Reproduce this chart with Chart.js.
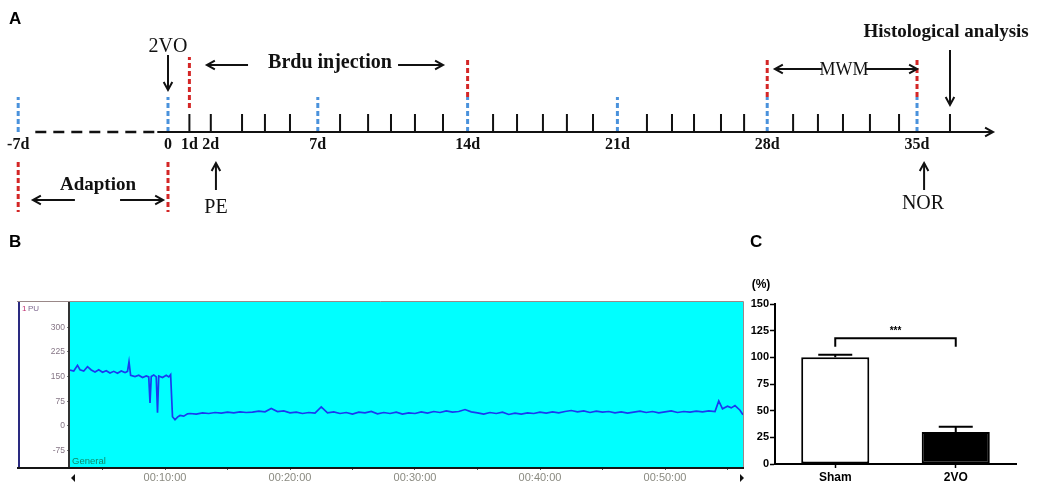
<!DOCTYPE html>
<html>
<head>
<meta charset="utf-8">
<script src="https://cdn.jsdelivr.net/npm/chart.js@4.4.1/dist/chart.umd.min.js"></script>
<style>
  html, body { margin: 0; padding: 0; background: #fff; }
  body { width: 1045px; height: 488px; position: relative; overflow: hidden; }
  canvas { position: absolute; }
  .tag { position: absolute; font: bold 17px Arial, "Liberation Sans", sans-serif; color: #000; line-height: 20px; }
</style>
</head>
<body>
<canvas id="timeline" width="1045" height="230" style="left:0;top:0"></canvas>
<canvas id="flow" width="750" height="258" style="left:0;top:230px"></canvas>
<canvas id="bars" width="300" height="258" style="left:745px;top:230px"></canvas>
<div class="tag" style="left:9px;top:9px">A</div>
<div class="tag" style="left:9px;top:232px">B</div>
<div class="tag" style="left:750px;top:232px">C</div>
<script>
// ---- panel A: experimental timeline (x in days) ----
const dayTicks = [1, 2, 3.46, 4.53, 5.7, 8.04, 9.35, 10.42, 11.54, 12.85, 15.19, 16.31, 17.52, 18.64, 19.86,
  22.38, 23.55, 24.58, 25.84, 26.92, 29.21, 30.37, 31.54, 32.8, 34.16, 36.54];
const weekMarks = [-7, 0, 7, 14, 21, 28, 35];
const redMarksUpper = [1, 14, 28, 35];
const redMarksLower = [-7, 0];
const dayLabelDays = [-7, 0, 1, 2, 7, 14, 21, 28, 35];
const dayLabelText = ["-7d", "0", "1d", "2d", "7d", "14d", "21d", "28d", "35d"];

// ---- panel B: laser doppler trace ----
const flowTime = [2.4, 2.7, 3.0, 3.2, 3.5, 3.8, 4.1, 4.4, 4.7, 5.0, 5.3, 5.6, 5.9, 6.2, 6.5, 6.8, 7.0, 7.12, 7.25,
  7.6, 7.9, 8.2, 8.5, 8.7, 8.8, 8.9, 9.1, 9.3, 9.4, 9.5, 9.8, 10.1, 10.3, 10.45, 10.6, 10.8, 11.0, 11.2, 11.5, 11.8,
  12.0, 12.5, 13.0, 13.5, 14.0, 14.5, 15.0, 15.5, 16.0, 16.5, 17.0, 17.5, 18.0, 18.5, 19.0, 19.5, 20.0, 20.5,
  21.0, 21.5, 22.0, 22.5, 23.0, 23.5, 24.0, 24.5, 25.0, 25.5, 26.0, 26.5, 27.0, 27.5, 28.0, 28.5, 29.0, 29.5,
  30.0, 30.5, 31.0, 31.5, 32.0, 32.5, 33.0, 33.5, 34.0, 34.5, 35.0, 35.5, 36.0, 36.5, 37.0, 37.5, 38.0, 38.5,
  39.0, 39.5, 40.0, 40.5, 41.0, 41.5, 42.0, 42.5, 43.0, 43.5, 44.0, 44.5, 45.0, 45.5, 46.0, 46.5, 47.0, 47.5,
  48.0, 48.5, 49.0, 49.5, 50.0, 50.5, 51.0, 51.5, 52.0, 52.5, 53.0, 53.5, 54.0, 54.3, 54.6, 55.0, 55.3, 55.6,
  56.0, 56.24];
const flowPU = [170, 167, 184, 171, 167, 180, 170, 164, 171, 163, 168, 161, 166, 160, 167, 162, 166, 195, 154,
  150, 154, 147, 152, 149, 70, 150, 155, 149, 40, 152, 147, 154, 149, 156, 28, 19, 27, 32, 30, 37,
  38, 36, 40, 38, 41, 39, 42, 40, 43, 41, 42, 45, 43, 53, 44, 46, 40, 42,
  38, 41, 39, 58, 40, 43, 38, 41, 36, 42, 40, 44, 37, 41, 38, 42, 36, 40,
  38, 43, 39, 44, 41, 46, 42, 44, 50, 43, 40, 36, 41, 38, 42, 35, 39, 36,
  40, 38, 42, 39, 43, 40, 44, 47, 43, 46, 41, 45, 42, 44, 40, 43, 39, 42,
  45, 41, 44, 40, 43, 46, 41, 44, 42, 45, 43, 46, 44, 76, 52, 60, 55, 62,
  48, 34];
const puTicks = [-75, 0, 75, 150, 225, 300];
const minuteTicks = [5, 10, 15, 20, 25, 30, 35, 40, 45, 50, 55];

// ---- panel C: relative blood flow ----
const groups = ["Sham", "2VO"];
const flowPercent = [100, 30];
const flowSem = [2.5, 5];

const serif = '"Liberation Serif", "Times New Roman", serif';
const sans = 'Arial, "Liberation Sans", sans-serif';

function level(v, x) {
  return typeof v === "function" ? v(x) : v;
}

function segs(xs, y0, y1) {
  return xs.flatMap((x) => [{ x, y: level(y0, x) }, { x, y: level(y1, x) }, { x, y: null }]);
}

function arrow(ctx, x1, y1, x2, y2, head) {
  const ang = Math.atan2(y2 - y1, x2 - x1);
  ctx.beginPath();
  ctx.moveTo(x1, y1);
  ctx.lineTo(x2, y2);
  ctx.stroke();
  ctx.beginPath();
  ctx.moveTo(x2 - head * Math.cos(ang - 0.5), y2 - head * Math.sin(ang - 0.5));
  ctx.lineTo(x2, y2);
  ctx.lineTo(x2 - head * Math.cos(ang + 0.5), y2 - head * Math.sin(ang + 0.5));
  ctx.stroke();
}

// labels and arrows on the timeline, placed in day / level units
const timelineNotes = [
  { text: "2VO", day: 0, level: 8.5, font: `20px ${serif}` },
  { text: "Brdu injection", day: 7.57, level: 6.9, font: `bold 20px ${serif}` },
  { text: "Histological analysis", day: 36.36, level: 10.0, font: `bold 19px ${serif}` },
  { text: "MWM", day: 31.59, level: 6.2, font: `18px ${serif}` },
  { text: "Adaption", day: -3.27, level: -5.3, font: `bold 19px ${serif}` },
  { text: "PE", day: 2.24, level: -7.6, font: `20px ${serif}` },
  { text: "NOR", day: 35.28, level: -7.2, font: `20px ${serif}` },
];
const timelineArrows = [
  [0, 7.7, 0, 4.2],
  [3.74, 6.7, 1.82, 6.7],
  [10.75, 6.7, 12.85, 6.7],
  [36.54, 8.2, 36.54, 2.7],
  [30.56, 6.3, 28.36, 6.3],
  [32.62, 6.3, 35.0, 6.3],
  [-4.35, -6.8, -6.31, -6.8],
  [-2.24, -6.8, -0.23, -6.8],
  [2.24, -5.8, 2.24, -3.1],
  [35.33, -5.8, 35.33, -3.1],
  [-0.5, 0, 38.55, 0],
];

const timelineText = {
  id: "timelineText",
  afterDraw(chart) {
    const { ctx } = chart;
    const xs = chart.scales.x, ys = chart.scales.y;
    ctx.save();
    ctx.fillStyle = "#111";
    ctx.strokeStyle = "#111";
    ctx.textAlign = "center";
    ctx.textBaseline = "middle";
    ctx.font = `bold 16px ${serif}`;
    dayLabelDays.forEach((d, i) => {
      ctx.fillText(dayLabelText[i], xs.getPixelForValue(d), ys.getPixelForValue(-1.3));
    });
    timelineNotes.forEach((n) => {
      ctx.font = n.font;
      ctx.fillText(n.text, xs.getPixelForValue(n.day), ys.getPixelForValue(n.level));
    });
    ctx.lineWidth = 2;
    timelineArrows.forEach((a) => {
      arrow(ctx, xs.getPixelForValue(a[0]), ys.getPixelForValue(a[1]),
        xs.getPixelForValue(a[2]), ys.getPixelForValue(a[3]), 9);
    });
    ctx.restore();
  },
};

new Chart(document.getElementById("timeline"), {
  type: "scatter",
  data: {
    datasets: [
      { data: segs(weekMarks, 0, 3.5), borderColor: "#4a92dc", borderWidth: 3, borderDash: [5, 3] },
      { data: segs(redMarksUpper, (d) => (weekMarks.includes(d) ? 3.5 : 2.4), 7.5), borderColor: "#d42626", borderWidth: 3, borderDash: [5, 3] },
      { data: segs(redMarksLower, -3.0, -8.0), borderColor: "#d42626", borderWidth: 3, borderDash: [5, 3] },
      { data: segs(dayTicks, 0, 1.8), borderColor: "#111", borderWidth: 2 },
      { data: [{ x: -6.2, y: 0 }, { x: -0.6, y: 0 }], borderColor: "#111", borderWidth: 2.5, borderDash: [11, 7] },
    ].map((ds) => ({ ...ds, showLine: true, pointRadius: 0, borderCapStyle: "butt" })),
  },
  options: {
    responsive: false,
    animation: false,
    layout: { padding: 0 },
    plugins: { legend: { display: false }, tooltip: { enabled: false } },
    scales: {
      x: { type: "linear", min: -7.85, max: 40.98, display: false },
      y: { type: "linear", min: -9.8, max: 13.2, display: false },
    },
  },
  plugins: [timelineText],
});

// ---- panel B ----
const flowFrame = {
  id: "flowFrame",
  beforeDraw(chart) {
    const { ctx, chartArea: a } = chart;
    ctx.save();
    ctx.fillStyle = "#fff";
    ctx.fillRect(17, a.top - 1, a.left - 17, a.bottom - a.top + 2);
    ctx.fillStyle = "#00ffff";
    ctx.fillRect(a.left, a.top, a.right - a.left, a.bottom - a.top);
    ctx.restore();
  },
  afterDraw(chart) {
    const { ctx, chartArea: a } = chart;
    ctx.save();
    ctx.lineWidth = 1;
    ctx.strokeStyle = "#9a8888";
    ctx.beginPath();
    ctx.moveTo(17, a.top - 0.5);
    ctx.lineTo(a.right + 0.5, a.top - 0.5);
    ctx.lineTo(a.right + 0.5, a.bottom);
    ctx.stroke();
    ctx.lineWidth = 2;
    ctx.strokeStyle = "#2a2a80";
    ctx.beginPath();
    ctx.moveTo(19, a.top);
    ctx.lineTo(19, a.bottom + 1);
    ctx.stroke();
    ctx.strokeStyle = "#333";
    ctx.beginPath();
    ctx.moveTo(a.left - 1, a.top);
    ctx.lineTo(a.left - 1, a.bottom + 1);
    ctx.stroke();
    ctx.strokeStyle = "#151515";
    ctx.beginPath();
    ctx.moveTo(17, a.bottom + 1);
    ctx.lineTo(a.right + 1, a.bottom + 1);
    ctx.stroke();

    ctx.textBaseline = "middle";
    ctx.textAlign = "left";
    ctx.font = `8px ${sans}`;
    ctx.fillStyle = "#c03070";
    ctx.fillText("1", 22, a.top + 7);
    ctx.fillStyle = "#806a90";
    ctx.fillText("PU", 28, a.top + 7);
    ctx.font = `9.5px ${sans}`;
    ctx.fillStyle = "#0f8a6a";
    ctx.fillText("General", a.left + 2, a.bottom - 6);

    // scroll arrows under the time axis
    ctx.fillStyle = "#111";
    const yb = a.bottom + 11;
    ctx.beginPath();
    ctx.moveTo(a.left + 1, yb);
    ctx.lineTo(a.left + 5, yb - 4);
    ctx.lineTo(a.left + 5, yb + 4);
    ctx.fill();
    ctx.beginPath();
    ctx.moveTo(a.right + 1, yb);
    ctx.lineTo(a.right - 3, yb - 4);
    ctx.lineTo(a.right - 3, yb + 4);
    ctx.fill();
    ctx.restore();
  },
};

new Chart(document.getElementById("flow"), {
  type: "line",
  data: {
    datasets: [{
      data: flowTime.map((t, i) => ({ x: t, y: flowPU[i] })),
      borderColor: "#1a3af0",
      borderWidth: 1.7,
      pointRadius: 0,
      tension: 0,
    }],
  },
  options: {
    responsive: false,
    animation: false,
    layout: { padding: { left: 17, top: 72, right: 7, bottom: 0 } },
    plugins: { legend: { display: false }, tooltip: { enabled: false } },
    scales: {
      x: {
        type: "linear",
        min: 2.4,
        max: 56.24,
        afterBuildTicks: (s) => { s.ticks = minuteTicks.map((v) => ({ value: v })); },
        afterFit: (s) => { s.height = 21; },
        ticks: {
          autoSkip: false,
          maxRotation: 0,
          padding: 1,
          color: "#8a8a80",
          font: { family: sans, size: 11 },
          callback: (v) => (v % 10 === 0 ? `00:${v}:00` : ""),
        },
        grid: { drawOnChartArea: false, tickLength: 3, color: "#555" },
        border: { display: false },
      },
      y: {
        min: -124.5,
        max: 376.5,
        afterBuildTicks: (s) => { s.ticks = puTicks.map((v) => ({ value: v })); },
        afterFit: (s) => { s.width = 53; },
        ticks: { padding: 2, color: "#857585", font: { family: sans, size: 8.5 } },
        grid: { drawOnChartArea: false, tickLength: 3, color: "#777" },
        border: { display: false },
      },
    },
  },
  plugins: [flowFrame],
});

// ---- panel C ----
const barExtras = {
  id: "barExtras",
  afterDatasetsDraw(chart) {
    const { ctx } = chart;
    const xs = chart.scales.x, ys = chart.scales.y;
    ctx.save();
    ctx.strokeStyle = "#000";
    ctx.lineWidth = 2;
    flowPercent.forEach((v, i) => {
      const x = xs.getPixelForValue(i);
      const yTop = ys.getPixelForValue(v + flowSem[i]);
      ctx.beginPath();
      ctx.moveTo(x, ys.getPixelForValue(v));
      ctx.lineTo(x, yTop);
      ctx.moveTo(x - 17, yTop);
      ctx.lineTo(x + 17, yTop);
      ctx.stroke();
    });
    const x0 = xs.getPixelForValue(0), x1 = xs.getPixelForValue(1);
    const yb = ys.getPixelForValue(118), yl = ys.getPixelForValue(110);
    ctx.beginPath();
    ctx.moveTo(x0, yl);
    ctx.lineTo(x0, yb);
    ctx.lineTo(x1, yb);
    ctx.lineTo(x1, yl);
    ctx.stroke();
    ctx.fillStyle = "#000";
    ctx.textAlign = "center";
    ctx.textBaseline = "middle";
    ctx.font = `bold 10px ${sans}`;
    ctx.fillText("***", (x0 + x1) / 2, ys.getPixelForValue(124));
    ctx.font = `bold 12px ${sans}`;
    ctx.fillText("(%)", 16, 55);
    ctx.restore();
  },
};

new Chart(document.getElementById("bars"), {
  type: "bar",
  data: {
    labels: groups,
    datasets: [{
      data: flowPercent,
      backgroundColor: ["#ffffff", "#000000"],
      borderColor: "#000",
      borderWidth: 2,
      borderSkipped: false,
      categoryPercentage: 1,
      barPercentage: 0.565,
    }],
  },
  options: {
    responsive: false,
    animation: false,
    layout: { padding: { left: 0, top: 74, right: 29, bottom: 0 } },
    plugins: { legend: { display: false }, tooltip: { enabled: false } },
    scales: {
      x: {
        afterFit: (s) => { s.height = 24; },
        ticks: { padding: 2, color: "#000", font: { family: sans, size: 12, weight: "bold" } },
        grid: { offset: false, drawOnChartArea: false, tickLength: 4, color: "#000", tickWidth: 1.5 },
        border: { color: "#000", width: 2 },
      },
      y: {
        min: 0,
        max: 150,
        afterFit: (s) => { s.width = 30; },
        ticks: { stepSize: 25, padding: 1, color: "#000", font: { family: sans, size: 11, weight: "bold" } },
        grid: { drawOnChartArea: false, tickLength: 5, color: "#000", tickWidth: 1.5 },
        border: { color: "#000", width: 2 },
      },
    },
  },
  plugins: [barExtras],
});
</script>
</body>
</html>
